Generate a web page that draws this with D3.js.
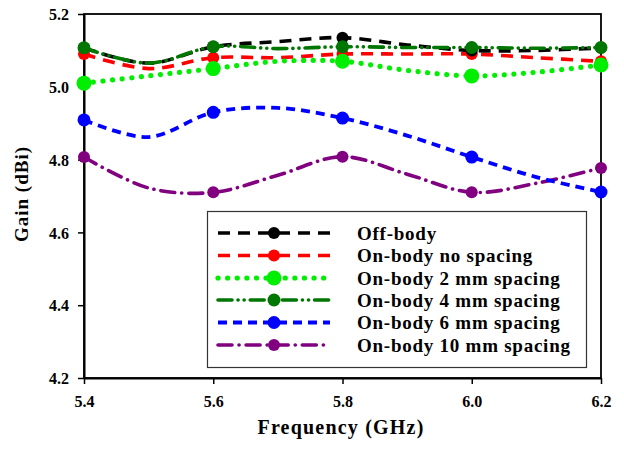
<!DOCTYPE html>
<html><head><meta charset="utf-8">
<script src="https://cdn.jsdelivr.net/npm/d3@7"></script>
<style>body{margin:0;background:#fff}svg{display:block}text{font-family:"Liberation Serif","Times New Roman",serif;font-weight:bold}</style>
</head><body><svg id="c" width="624" height="452"></svg>
<script>
const freqs = [5.4, 5.5, 5.6, 5.7, 5.8, 5.9, 6.0, 6.1, 6.2];
const markerFreqs = [5.4, 5.6, 5.8, 6.0, 6.2];
const offBody   = [5.107, 5.065, 5.110, 5.124, 5.135, 5.115, 5.100, 5.100, 5.107];
const noSpacing = [5.090, 5.050, 5.080, 5.080, 5.090, 5.090, 5.090, 5.080, 5.070];
const sp2mm     = [5.010, 5.030, 5.050, 5.070, 5.070, 5.045, 5.030, 5.040, 5.060];
const sp4mm     = [5.107, 5.065, 5.110, 5.105, 5.110, 5.108, 5.108, 5.106, 5.108];
const sp6mm     = [4.909, 4.862, 4.930, 4.942, 4.914, 4.866, 4.807, 4.752, 4.711];
const sp10mm    = [4.807, 4.722, 4.710, 4.757, 4.808, 4.760, 4.710, 4.735, 4.777];
const seriesNames = ["Off-body","On-body no spacing","On-body 2 mm spacing","On-body 4 mm spacing","On-body 6 mm spacing","On-body 10 mm spacing"];
const xTicks = [5.4, 5.6, 5.8, 6.0, 6.2];
const yTicks = [4.2, 4.4, 4.6, 4.8, 5.0, 5.2];

const styles = [
  {color:"#000000", dash:"12,8", cap:"butt", w:3.6, r:6},
  {color:"#ff0000", dash:"12,8", cap:"butt", w:3.6, r:6},
  {color:"#00ee00", dash:"0.1,9.5", cap:"round", w:5.2, r:7.5},
  {color:"#007700", dash:"14,6,0.1,6,0.1,6", cap:"round", w:3.6, r:6.5},
  {color:"#0000ff", dash:"9,6", cap:"butt", w:3.8, r:6.5},
  {color:"#800080", dash:"14,7,0.1,7", cap:"round", w:3.6, r:6}
];
const allSeries = [offBody, noSpacing, sp2mm, sp4mm, sp6mm, sp10mm];

const svg = d3.select("#c");
const x = d3.scaleLinear().domain([5.4, 6.2]).range([84, 601]);
const y = d3.scaleLinear().domain([4.2, 5.2]).range([378, 14]);

svg.append("rect").attr("x",84).attr("y",14).attr("width",517).attr("height",364)
  .attr("fill","none").attr("stroke","#000").attr("stroke-width",1.8);

const xAxis = svg.append("g").attr("transform","translate(0,378)")
  .call(d3.axisBottom(x).tickValues(xTicks).tickFormat(d3.format(".1f")).tickSize(6).tickSizeOuter(0));
const yAxis = svg.append("g").attr("transform","translate(84,0)")
  .call(d3.axisLeft(y).tickValues(yTicks).tickFormat(d3.format(".1f")).tickSize(6).tickSizeOuter(0));
[xAxis,yAxis].forEach(g=>{
  g.select(".domain").attr("stroke","#000").attr("stroke-width",2);
  g.selectAll(".tick line").attr("stroke","#000").attr("stroke-width",1.5);
  g.selectAll(".tick text").attr("font-size",16).attr("fill","#000")
   .style("font-family",'"Liberation Serif",serif').style("font-weight","bold");
});
xAxis.selectAll(".tick text").attr("dy","0").attr("y",29);
yAxis.selectAll(".tick text").attr("x",-15).attr("dy","0.35em");

const line = d3.line().x((d,i)=>x(freqs[i])).y(d=>y(d)).curve(d3.curveCatmullRom.alpha(0.5));
const order = [5,4,1,2,0,3];
order.forEach(k=>{
  const s = styles[k], vals = allSeries[k];
  svg.append("path").attr("d", line(vals)).attr("fill","none")
    .attr("stroke", s.color).attr("stroke-width", s.w).attr("stroke-dasharray", s.dash)
    .attr("stroke-linecap", s.cap);
  svg.selectAll(null).data(freqs.map((f,i)=>[f,vals[i]]).filter(p=>markerFreqs.includes(p[0])))
    .enter().append("circle").attr("cx",d=>x(d[0])).attr("cy",d=>y(d[1]))
    .attr("r", s.r).attr("fill", s.color);
});

const lg = svg.append("g");
lg.append("rect").attr("x",207.5).attr("y",211.5).attr("width",379).attr("height",156)
  .attr("fill","#fff").attr("stroke","#333").attr("stroke-width",1.2);
const rowY = [233, 255.5, 278, 300, 322.5, 345];
seriesNames.forEach((n,k)=>{
  const s = styles[k];
  lg.append("line").attr("x1",218).attr("x2",330).attr("y1",rowY[k]).attr("y2",rowY[k])
    .attr("stroke",s.color).attr("stroke-width",s.w).attr("stroke-dasharray",s.dash).attr("stroke-linecap",s.cap);
  lg.append("circle").attr("cx",274).attr("cy",rowY[k]).attr("r",s.r).attr("fill",s.color);
  lg.append("text").attr("x",357).attr("y",rowY[k]).attr("dy","0.36em").attr("font-size",19)
    .attr("letter-spacing",0.75).attr("fill","#000").text(n);
});

svg.append("text").attr("x",341).attr("y",434).attr("text-anchor","middle").attr("font-size",20)
  .attr("letter-spacing",1.2).text("Frequency (GHz)");
svg.append("text").attr("transform","translate(28,194) rotate(-90)").attr("text-anchor","middle")
  .attr("font-size",19).attr("letter-spacing",1).text("Gain (dBi)");
</script></body></html>
